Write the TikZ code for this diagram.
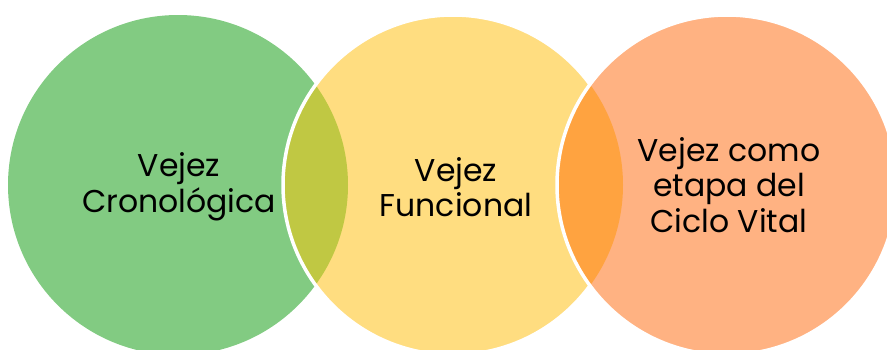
\documentclass[tikz,border=0pt]{standalone}
\usepackage{fontspec}
\setmainfont{Poppins}
\definecolor{cgreen}{RGB}{130,203,130}
\definecolor{cyellow}{RGB}{255,221,128}
\definecolor{corange}{RGB}{255,178,130}
\definecolor{colive}{RGB}{192,200,67}
\definecolor{cdorange}{RGB}{255,163,64}
\tikzset{
  lbl/.style={align=center, text=black, inner sep=0pt, font=\fontsize{31.5}{35.5}\selectfont},
  rim/.style={draw=white, line width=3.5pt}
}
\begin{document}
\begin{tikzpicture}[x=1pt,y=-1pt]
\useasboundingbox (0,0) rectangle (887,349);
\clip (0,0) rectangle (887,349);
\coordinate (g) at (178,185);
\coordinate (y) at (453,185);
\coordinate (o) at (727,185);
\fill[cgreen] (g) circle[radius=170pt];
\fill[cyellow] (y) circle[radius=170pt];
\begin{scope}
  \clip (g) circle[radius=170pt];
  \fill[colive] (y) circle[radius=170pt];
\end{scope}
\draw[rim] (y) circle[radius=170pt];
\fill[corange] (o) circle[radius=170pt];
\begin{scope}
  \clip (y) circle[radius=170pt];
  \fill[cdorange] (o) circle[radius=170pt];
\end{scope}
\draw[rim] (o) circle[radius=170pt];
\node[lbl] (t1) at (179,187) {Vejez\\Cronológica};
\node[lbl] (t2) at (456,187) {Vejez\\Funcional};
\node[lbl] (t3) at (729,185) {Vejez como\\etapa del\\Ciclo Vital};
\end{tikzpicture}
\end{document}
